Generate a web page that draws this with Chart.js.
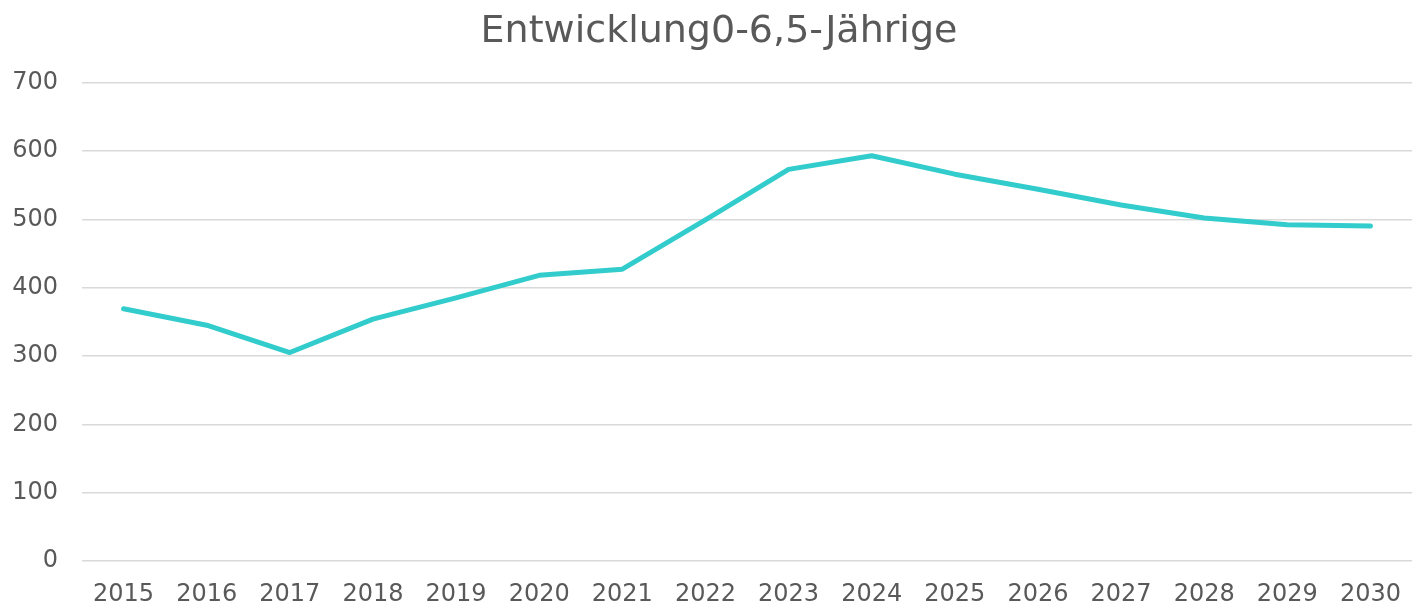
<!DOCTYPE html>
<html>
<head>
<meta charset="utf-8">
<script src="https://cdn.jsdelivr.net/npm/chart.js@4.4.0/dist/chart.umd.min.js"></script>
<style>
html,body{margin:0;padding:0;background:#fff;}
#wrap{width:1412px;height:606px;position:relative;}
</style>
</head>
<body>
<div id="wrap"><canvas id="c"></canvas></div>
<script>
const titleText = "Entwicklung0-6,5-Jährige";
const years = ["2015","2016","2017","2018","2019","2020","2021","2022","2023","2024","2025","2026","2027","2028","2029","2030"];
const children = [369,345,305,354,385,418,427,499,573,593,566,544,521,502,492,490];
const yTicks = [0,100,200,300,400,500,600,700];

const textColor = "#595959";
const fontFamily = "'DejaVu Sans', Verdana, sans-serif";

// shift the title block slightly right, as in the original
const titleShift = {
  id: "titleShift",
  afterLayout(chart) {
    const t = chart.titleBlock;
    if (t) { t.left += 13; t.right += 13; }
  }
};

new Chart(document.getElementById("c"), {
  type: "line",
  data: {
    labels: years,
    datasets: [{
      label: titleText,
      data: children,
      borderColor: "#33CCCC",
      backgroundColor: "#33CCCC",
      borderWidth: 5,
      borderCapStyle: "round",
      borderJoinStyle: "round",
      pointRadius: 0,
      tension: 0,
      fill: false
    }]
  },
  plugins: [titleShift],
  options: {
    responsive: true,
    maintainAspectRatio: false,
    animation: false,
    layout: { padding: { left: 0, right: 0, top: 0, bottom: 0 } },
    plugins: {
      legend: { display: false },
      tooltip: { enabled: false },
      title: {
        display: true,
        text: titleText,
        color: textColor,
        font: { family: fontFamily, size: 38, weight: "normal" },
        padding: { top: 9, bottom: 28 }
      }
    },
    scales: {
      x: {
        offset: true,
        grid: { display: false, drawTicks: true, tickLength: 19 },
        border: { display: false },
        ticks: { color: textColor, font: { family: fontFamily, size: 24 }, padding: 0, maxRotation: 0, autoSkip: false },
        afterFit(scale) { scale.height = 45; }
      },
      y: {
        min: 0,
        max: 700,
        afterBuildTicks(scale) { scale.ticks = yTicks.map(v => ({ value: v })); },
        grid: { color: "#d9d9d9", lineWidth: 1.5, drawTicks: false },
        border: { display: false },
        ticks: { color: textColor, font: { family: fontFamily, size: 24 }, padding: 24 },
        afterFit(scale) { scale.width = 82; }
      }
    }
  }
});
</script>
</body>
</html>
